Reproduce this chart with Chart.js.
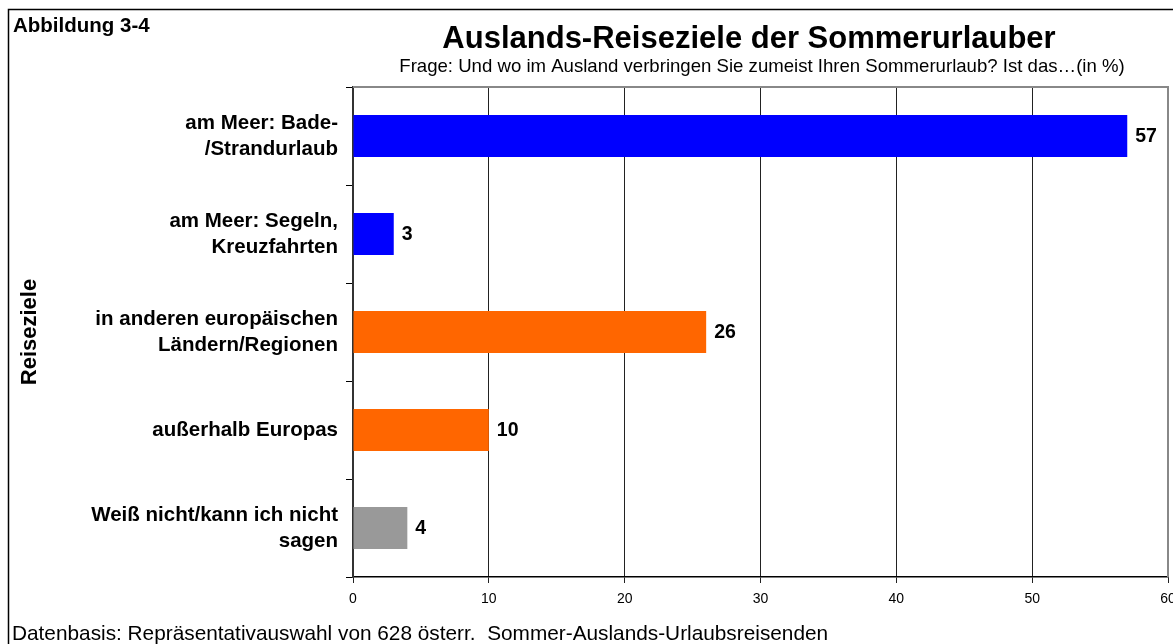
<!DOCTYPE html>
<html>
<head>
<meta charset="utf-8">
<script src="https://cdn.jsdelivr.net/npm/chart.js@4.4.1/dist/chart.umd.min.js"></script>
<style>
  html, body { margin: 0; padding: 0; background: #fff; }
  #wrap { width: 1173px; height: 644px; }
</style>
</head>
<body>
<div id="wrap"><canvas id="c" width="1173" height="644"></canvas></div>
<script>
const categories = [
  ['am Meer: Bade-', '/Strandurlaub'],
  ['am Meer: Segeln,', 'Kreuzfahrten'],
  ['in anderen europäischen', 'Ländern/Regionen'],
  ['außerhalb Europas'],
  ['Weiß nicht/kann ich nicht', 'sagen']
];
const values = [57, 3, 26, 10, 4];
const barColors = ['#0000ff', '#0000ff', '#ff6600', '#ff6600', '#999999'];
const xTicks = [0, 10, 20, 30, 40, 50, 60];

const FONT = "'Liberation Sans', Arial, sans-serif";

const decor = {
  id: 'decor',
  afterDraw(chart) {
    const { ctx, chartArea: a } = chart;
    ctx.save();
    // frame
    ctx.strokeStyle = '#000';
    ctx.lineWidth = 1.5;
    ctx.beginPath();
    ctx.moveTo(1173, 9.5); ctx.lineTo(8.5, 9.5); ctx.lineTo(8.5, 644);
    ctx.stroke();
    // plot border top/right
    ctx.strokeStyle = '#888';
    ctx.lineWidth = 2;
    ctx.beginPath();
    ctx.moveTo(a.left, a.top); ctx.lineTo(a.right, a.top); ctx.lineTo(a.right, a.bottom);
    ctx.stroke();

    ctx.fillStyle = '#000';
    ctx.textBaseline = 'alphabetic';
    ctx.textAlign = 'left';
    ctx.font = 'bold 20.5px ' + FONT;
    ctx.fillText('Abbildung 3-4', 13, 32);

    ctx.textAlign = 'center';
    ctx.font = 'bold 31px ' + FONT;
    ctx.fillText('Auslands-Reiseziele der Sommerurlauber', 749, 48);
    ctx.font = '18.6px ' + FONT;
    ctx.fillText('Frage: Und wo im Ausland verbringen Sie zumeist Ihren Sommerurlaub? Ist das\u2026(in %)', 762, 72);

    ctx.textAlign = 'left';
    ctx.font = '20.8px ' + FONT;
    ctx.fillText('Datenbasis: Repräsentativauswahl von 628 österr.  Sommer-Auslands-Urlaubsreisenden', 12, 640);

    // value labels
    const meta = chart.getDatasetMeta(0);
    ctx.font = 'bold 19.5px ' + FONT;
    ctx.textBaseline = 'middle';
    meta.data.forEach((bar, i) => {
      ctx.fillText(String(values[i]), bar.x + 8, bar.y + 1);
    });
    ctx.restore();
  }
};

new Chart(document.getElementById('c'), {
  type: 'bar',
  data: {
    labels: categories,
    datasets: [{
      data: values,
      backgroundColor: barColors,
      borderWidth: 0,
      barPercentage: 0.43,
      categoryPercentage: 1
    }]
  },
  options: {
    indexAxis: 'y',
    responsive: false,
    animation: false,
    layout: { padding: { top: 87, right: 5, bottom: 0, left: 9 } },
    plugins: { legend: { display: false }, tooltip: { enabled: false }, title: { display: false } },
    scales: {
      x: {
        type: 'linear',
        min: 0, max: 60,
        afterBuildTicks: s => { s.ticks = xTicks.map(v => ({ value: v })); },
        afterFit: s => { s.height = 67; s.paddingRight = 0; s.paddingLeft = 0; },
        grid: { color: '#222', lineWidth: 1, tickLength: 6, drawTicks: true },
        border: { color: '#000', width: 1.5 },
        ticks: { color: '#000', font: { family: FONT, size: 14 }, padding: 8, maxRotation: 0, autoSkip: false }
      },
      y: {
        afterFit: s => { s.width = 353 - 9; },
        grid: { drawOnChartArea: false, offset: true, tickLength: 7, color: '#000', lineWidth: 1 },
        border: { color: '#333', width: 2 },
        title: { display: true, text: 'Reiseziele', color: '#000', font: { family: FONT, size: 22, weight: 'bold' }, padding: { top: 8, bottom: 0 } },
        ticks: { color: '#000', font: { family: FONT, size: 20.5, weight: 'bold', lineHeight: 1.27 }, padding: 8 }
      }
    }
  },
  plugins: [decor]
});
</script>
</body>
</html>
